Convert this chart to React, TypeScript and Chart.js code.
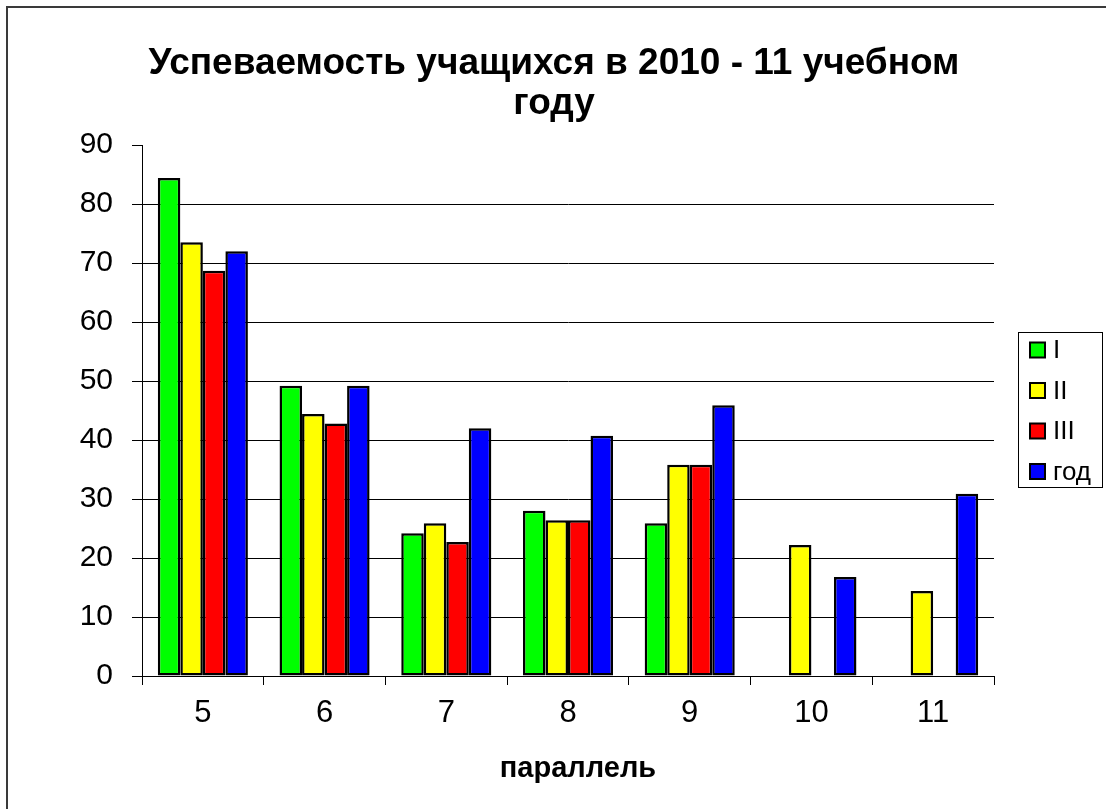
import React, { useEffect, useRef } from 'react';
import { Chart, registerables } from 'chart.js';

Chart.register(...registerables);

const categories = ['5', '6', '7', '8', '9', '10', '11'];
const seriesI = [84.4, 49.2, 24.2, 28.0, 25.9, null, null];
const seriesII = [73.5, 44.4, 25.9, 26.4, 35.8, 22.2, 14.4];
const seriesIII = [68.7, 42.8, 22.7, 26.4, 35.8, null, null];
const seriesYear = [72.0, 49.2, 42.0, 40.7, 45.9, 16.8, 30.9];
const seriesNames = ['I', 'II', 'III', 'год'];
const seriesColors = ['#00ff00', '#ffff00', '#ff0000', '#0000ff'];
const yMin = 0;
const yMax = 90;
const yStep = 10;
const titleLines = ['Успеваемость учащихся в 2010 - 11 учебном', 'году'];
const xTitle = 'параллель';

const FONT = "'Liberation Sans', Arial, sans-serif";

const decorPlugin = {
  id: 'decor',
  beforeDraw(chart: any) {
    const ctx = chart.ctx;
    ctx.save();
    ctx.fillStyle = '#ffffff';
    ctx.fillRect(0, 0, chart.width, chart.height);
    ctx.strokeStyle = '#3a3a3a';
    ctx.lineWidth = 2;
    ctx.beginPath();
    ctx.moveTo(7, chart.height + 2);
    ctx.lineTo(7, 7);
    ctx.lineTo(chart.width + 2, 7);
    ctx.stroke();
    ctx.restore();
  },
  afterDraw(chart: any) {
    const ctx = chart.ctx;
    ctx.save();
    // title
    ctx.fillStyle = '#000';
    ctx.textAlign = 'center';
    ctx.textBaseline = 'alphabetic';
    ctx.font = `bold 37px ${FONT}`;
    ctx.fillText(titleLines[0], 554, 74);
    ctx.fillText(titleLines[1], 554, 114);
    // x axis title
    ctx.font = `bold 29px ${FONT}`;
    ctx.fillText(xTitle, 578, 777);
    // legend
    const left = 1018;
    const top = 332;
    const right = 1102;
    const bottom = 487;
    ctx.strokeStyle = '#000';
    ctx.lineWidth = 1;
    ctx.strokeRect(left + 0.5, top + 0.5, right - left, bottom - top);
    ctx.font = `26px ${FONT}`;
    ctx.textBaseline = 'middle';
    ctx.textAlign = 'left';
    chart.data.datasets.forEach((ds: any, i: number) => {
      const cy = 350 + i * 40.5;
      ctx.fillStyle = ds.backgroundColor;
      ctx.fillRect(1030, cy - 7.5, 15, 15);
      ctx.lineWidth = 2;
      ctx.strokeStyle = '#000';
      ctx.strokeRect(1030, cy - 7.5, 15, 15);
      ctx.fillStyle = '#000';
      ctx.fillText(ds.label, 1053, cy + 1);
    });
    ctx.restore();
  },
};

export default function App() {
  const ref = useRef<HTMLCanvasElement | null>(null);

  useEffect(() => {
    if (!ref.current) return;
    const series = [seriesI, seriesII, seriesIII, seriesYear];
    const chart = new Chart(ref.current, {
      type: 'bar',
      data: {
        labels: categories,
        datasets: series.map((d, i) => ({
          label: seriesNames[i],
          data: d,
          backgroundColor: seriesColors[i],
          borderColor: '#000',
          borderWidth: 2.5,
          borderSkipped: false,
          barPercentage: 1,
          categoryPercentage: 0.74,
        })),
      },
      options: {
        animation: false,
        responsive: false,
        maintainAspectRatio: false,
        layout: { padding: { left: 0, right: 112, top: 145, bottom: 0 } },
        plugins: {
          legend: { display: false },
          tooltip: { enabled: false },
          title: { display: false },
        },
        scales: {
          x: {
            afterFit: (s: any) => {
              s.height = 133;
            },
            grid: {
              offset: true,
              drawOnChartArea: false,
              drawTicks: true,
              tickLength: 9,
              color: '#000',
              tickColor: '#000',
            },
            border: { color: '#000', width: 1 },
            ticks: {
              color: '#000',
              font: { family: FONT, size: 31, lineHeight: 1.2 },
              padding: 10,
            },
          },
          y: {
            min: yMin,
            max: yMax,
            afterFit: (s: any) => {
              s.width = 142;
            },
            grid: {
              color: (c: any) => (c.tick && c.tick.value === yMax ? 'rgba(0,0,0,0)' : '#000'),
              tickColor: '#000',
              tickLength: 10,
              lineWidth: 1,
            },
            border: { color: '#000', width: 1 },
            ticks: {
              stepSize: yStep,
              color: '#000',
              font: { family: FONT, size: 30 },
              padding: 19,
            },
          },
        },
      },
      plugins: [decorPlugin],
    } as any);
    return () => chart.destroy();
  }, []);

  return (
    <div style={{ position: 'fixed', left: 0, top: 0, width: 1106, height: 809, background: '#fff' }}>
      <canvas ref={ref} width={1106} height={809} style={{ width: 1106, height: 809, display: 'block' }} />
    </div>
  );
}
